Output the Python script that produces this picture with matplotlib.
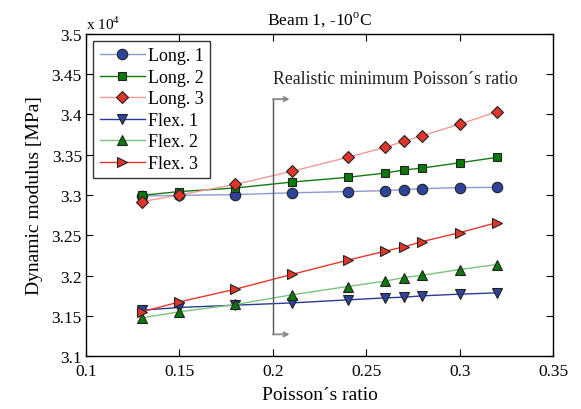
import matplotlib
matplotlib.use("Agg")
import matplotlib.pyplot as plt

plt.rcParams['font.family'] = 'Liberation Serif'
plt.rcParams['mathtext.fontset'] = 'custom'
plt.rcParams['mathtext.rm'] = 'Liberation Serif'

# poisson ratios used for every series
nu = [0.13, 0.15, 0.18, 0.21, 0.24, 0.26, 0.27, 0.28, 0.30, 0.32]

# dynamic modulus, units of 1e4 MPa
long1 = [3.2987, 3.2996, 3.3004, 3.3027, 3.3042, 3.3054, 3.3066, 3.3079, 3.3091, 3.3095]
long2 = [3.2996, 3.3042, 3.3087, 3.3160, 3.3219, 3.3272, 3.3310, 3.3334, 3.3400, 3.3467]
long3 = [3.2918, 3.3000, 3.3132, 3.3293, 3.3467, 3.3591, 3.3665, 3.3736, 3.3880, 3.4033]
flex1 = [3.1570, 3.1604, 3.1632, 3.1660, 3.1698, 3.1723, 3.1731, 3.1748, 3.1769, 3.1785]
flex2 = [3.1475, 3.1550, 3.1641, 3.1760, 3.1864, 3.1930, 3.1975, 3.2004, 3.2075, 3.2137]
flex3 = [3.1550, 3.1673, 3.1831, 3.2013, 3.2190, 3.2302, 3.2355, 3.2422, 3.2533, 3.2657]

labels = ['Long. 1', 'Long. 2', 'Long. 3', 'Flex. 1', 'Flex. 2', 'Flex. 3']
markers = ['o', 's', 'D', 'v', '^', '>']
line_colors = ['#8a9ad4', '#137a13', '#f29a92', '#2b3a95', '#7cc47c', '#e8372a']
face_colors = ['#2e449c', '#0b780b', '#e0352a', '#2e449c', '#0b780b', '#e0352a']
msizes = [7.5, 6, 6.5, 7.5, 7.5, 7.5]

# realistic minimum poisson ratio marker line
nu_min = 0.2
line_lo, line_hi = 3.127, 3.419

fig = plt.figure(figsize=(5.81, 4.10), dpi=100)
ax = fig.add_axes([0.148, 0.129, 0.804, 0.786])

for y, lab, m, lc, fc, ms in zip([long1, long2, long3, flex1, flex2, flex3],
                                 labels, markers, line_colors, face_colors, msizes):
    ax.plot(nu, y, color=lc, lw=1.0, marker=m, markersize=ms,
            markerfacecolor=fc, markeredgecolor='#222222', markeredgewidth=0.8, label=lab)

# vertical line with little arrows
ax.plot([nu_min, nu_min], [line_lo, line_hi], color='#555555', lw=1.0)
for yy in [line_lo, line_hi]:
    ax.annotate('', xy=(nu_min + 0.009, yy), xytext=(nu_min, yy),
                arrowprops=dict(arrowstyle='->,head_length=0.3,head_width=0.15',
                                color='#888888', lw=1.3, shrinkA=0, shrinkB=0))
ax.text(nu_min, 3.4335, 'Realistic minimum Poisson\u00b4s ratio', fontsize=12.8,
        ha='left', va='bottom', color='#222222')

ax.set_xlim(0.1, 0.35)
ax.set_ylim(3.1, 3.5)
ax.set_xticks([0.1, 0.15, 0.2, 0.25, 0.3, 0.35])
ax.set_xticklabels(['0.1', '0.15', '0.2', '0.25', '0.3', '0.35'])
ax.set_yticks([3.1, 3.15, 3.2, 3.25, 3.3, 3.35, 3.4, 3.45, 3.5])
ax.set_yticklabels(['3.1', '3.15', '3.2', '3.25', '3.3', '3.35', '3.4', '3.45', '3.5'])
ax.tick_params(direction='in', top=True, right=True, labelsize=12.5, length=5)
ax.tick_params(axis='x', pad=5)
ax.tick_params(axis='y', pad=3)
for s in ax.spines.values():
    s.set_linewidth(1.0)

ax.set_xlabel('Poisson\u00b4s ratio', fontsize=14, labelpad=5)
ax.set_ylabel('Dynamic modulus [MPa]', fontsize=14, labelpad=6)
ax.set_title('Beam 1, -10$^{\\mathrm{o}}$C', fontsize=12.5, pad=7)
ax.text(0.0, 1.005, 'x 10$^4$', transform=ax.transAxes, fontsize=11,
        ha='left', va='bottom')

leg = ax.legend(loc='upper left', fontsize=13, frameon=True, fancybox=False,
                borderaxespad=0.4, handlelength=2.5, labelspacing=0.25,
                borderpad=0.35, handletextpad=0.2)
leg.get_frame().set_edgecolor('black')
leg.get_frame().set_linewidth(1.0)

fig.savefig('out.png', dpi=100)
